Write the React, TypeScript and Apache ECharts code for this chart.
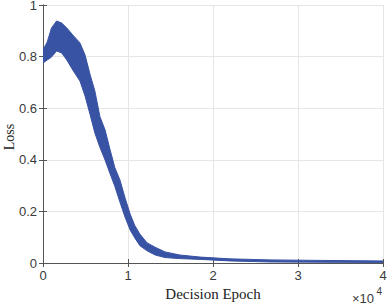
import React, { useEffect, useRef } from "react";
import * as echarts from "echarts";

// Decision epochs (x) with lower / upper envelope of the noisy loss band
const epochs = [0, 500, 1000, 1600, 2200, 2800, 3500, 4350, 4950, 5550, 6100, 6700, 7300, 7900, 8450, 9050, 9650, 10250, 10800, 11400, 12250, 13200, 14350, 16100, 18500, 22000, 26700, 32600, 40000];
const lossLower = [0.775, 0.787, 0.798, 0.822, 0.814, 0.787, 0.748, 0.705, 0.647, 0.574, 0.504, 0.448, 0.399, 0.345, 0.297, 0.236, 0.178, 0.128, 0.097, 0.067, 0.047, 0.031, 0.021, 0.017, 0.014, 0.008, 0.004, 0.003, 0.002];
const lossUpper = [0.826, 0.857, 0.911, 0.938, 0.930, 0.911, 0.884, 0.853, 0.806, 0.729, 0.667, 0.567, 0.516, 0.438, 0.370, 0.322, 0.253, 0.190, 0.145, 0.112, 0.078, 0.061, 0.043, 0.031, 0.023, 0.016, 0.012, 0.010, 0.008];
const xTickLabels = ["0", "1", "2", "3", "4"];
const yTickLabels = ["0", "0.2", "0.4", "0.6", "0.8", "1"];

const BLUE = "#3953a4";
const AXIS = "#555555";
const LABEL = "#3a3a3a";
const SANS = "'Liberation Sans', Arial, sans-serif";
const SERIF = "'Liberation Serif', 'Times New Roman', serif";

export default function App() {
  const ref = useRef<HTMLDivElement>(null);
  useEffect(() => {
    if (!ref.current) return;
    const chart = echarts.init(ref.current, undefined, { renderer: "svg" });
    const bandData = epochs.map((x, i) => [x, lossLower[i], lossUpper[i]]);
    const commonX = { type: "value" as const, min: 0, max: 40000, interval: 10000 };
    const commonY = { type: "value" as const, min: 0, max: 1, interval: 0.2 };
    chart.setOption({
      animation: false,
      grid: { left: 43, right: 5, top: 5, bottom: 43, containLabel: false, outerBoundsMode: "none" },
      xAxis: [
        {
          ...commonX,
          position: "bottom",
          name: "Decision Epoch",
          nameLocation: "middle",
          nameGap: 21,
          nameTextStyle: { fontFamily: SERIF, fontSize: 15, color: "#222" },
          axisLine: { show: true, lineStyle: { color: AXIS, width: 1 } },
          axisTick: { show: true, inside: true, length: 4, lineStyle: { color: AXIS } },
          axisLabel: {
            show: true,
            margin: 6,
            fontFamily: SANS,
            fontSize: 13,
            color: LABEL,
            formatter: (v: number) => xTickLabels[Math.round(v / 10000)] ?? "",
          },
          splitLine: { show: true, lineStyle: { color: "#e6e6e6", width: 1 } },
        },
        {
          ...commonX,
          position: "top",
          axisLine: { show: true, lineStyle: { color: AXIS, width: 1 } },
          axisTick: { show: true, inside: true, length: 4, lineStyle: { color: AXIS } },
          axisLabel: { show: false },
          splitLine: { show: false },
        },
      ],
      yAxis: [
        {
          ...commonY,
          position: "left",
          axisLine: { show: true, lineStyle: { color: AXIS, width: 1 } },
          axisTick: { show: true, inside: true, length: 4, lineStyle: { color: AXIS } },
          axisLabel: {
            show: true,
            margin: 6,
            fontFamily: SANS,
            fontSize: 13,
            lineHeight: 10,
            color: LABEL,
            formatter: (v: number) => yTickLabels[Math.round(v / 0.2)] ?? "",
          },
          splitLine: { show: true, lineStyle: { color: "#e6e6e6", width: 1 } },
        },
        {
          ...commonY,
          position: "right",
          axisLine: { show: true, lineStyle: { color: AXIS, width: 1 } },
          axisTick: { show: true, inside: true, length: 4, lineStyle: { color: AXIS } },
          axisLabel: { show: false },
          splitLine: { show: false },
        },
      ],
      series: [
        {
          type: "custom",
          name: "Loss",
          xAxisIndex: 0,
          yAxisIndex: 0,
          data: bandData,
          encode: { x: 0, y: [1, 2] },
          clip: true,
          z: 3,
          renderItem: (params: any, api: any) => {
            if (params.dataIndex !== 0) return null;
            const top = bandData.map((d) => api.coord([d[0], d[2]]));
            const bottom = bandData.map((d) => api.coord([d[0], d[1]])).reverse();
            return {
              type: "polygon",
              shape: { points: top.concat(bottom) },
              style: { fill: BLUE, stroke: BLUE, lineWidth: 1 },
            };
          },
        },
      ],
      graphic: [
        {
          type: "text",
          x: 9,
          y: 137,
          rotation: Math.PI / 2,
          style: {
            text: "Loss",
            fontFamily: SERIF,
            fontSize: 14,
            fill: "#222",
            textAlign: "center",
            textVerticalAlign: "middle",
          },
        },
        {
          type: "text",
          right: 14,
          top: 292,
          style: { text: "×10", fontFamily: SANS, fontSize: 13, fill: LABEL },
        },
        {
          type: "text",
          right: 6,
          top: 286,
          style: { text: "4", fontFamily: SANS, fontSize: 10, fill: LABEL },
        },
      ],
    });
    return () => chart.dispose();
  }, []);
  return <div ref={ref} style={{ width: 388, height: 306, position: "absolute", left: 0, top: 0 }} />;
}
